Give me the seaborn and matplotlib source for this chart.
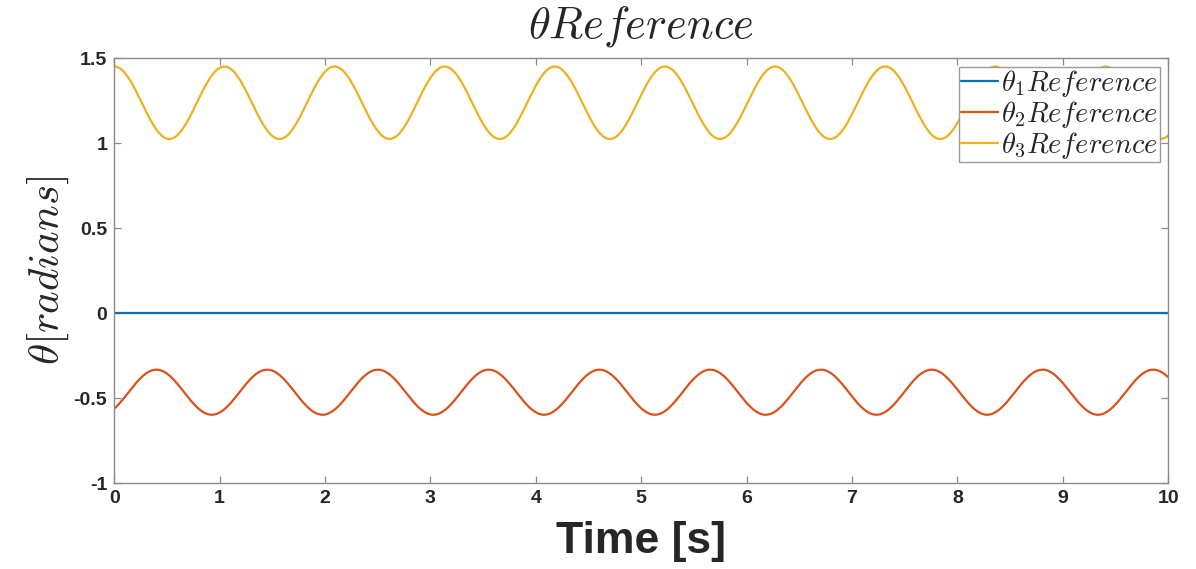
import numpy as np
import pandas as pd
import matplotlib
matplotlib.use("Agg")
import matplotlib.pyplot as plt
import seaborn as sns

# ---- data (extrema of each trace) ----
theta1_t = [0.0, 10.0]
theta1_v = [0.0, 0.0]

# theta2: alternating trough / peak times and values (first/last knots lie just outside the view)
theta2_t = [-0.126, 0.400, 0.926, 1.451, 1.977, 2.502, 3.028, 3.553, 4.079, 4.604,
            5.130, 5.655, 6.181, 6.706, 7.232, 7.757, 8.283, 8.808, 9.334, 9.859, 10.385]
theta2_v = [-0.598, -0.333, -0.598, -0.333, -0.598, -0.333, -0.598, -0.333, -0.598, -0.333,
            -0.598, -0.333, -0.598, -0.333, -0.598, -0.333, -0.598, -0.333, -0.598, -0.333, -0.598]

# theta3: alternating peak / trough times and values
theta3_t = [0.000, 0.523, 1.045, 1.568, 2.090, 2.613, 3.135, 3.658, 4.180, 4.703,
            5.225, 5.748, 6.270, 6.793, 7.315, 7.838, 8.360, 8.883, 9.405, 9.928, 10.450]
theta3_v = [1.450, 1.024, 1.450, 1.024, 1.450, 1.024, 1.450, 1.024, 1.450, 1.024,
            1.450, 1.024, 1.450, 1.024, 1.450, 1.024, 1.450, 1.024, 1.450, 1.024, 1.450]

labels = [r'$\theta_1 Reference$', r'$\theta_2 Reference$', r'$\theta_3 Reference$']
colors = ['#0072BD', '#D95319', '#EDB120']

x_ticks = list(range(0, 11))
y_ticks = [-1, -0.5, 0, 0.5, 1, 1.5]
y_ticklabels = ['-1', '-0.5', '0', '0.5', '1', '1.5']


def smooth_trace(ts, vs, n=40):
    """Join consecutive extrema with half-cosine segments (smooth turning points)."""
    out_t, out_v = [], []
    for i in range(len(ts) - 1):
        s = np.linspace(0, 1, n, endpoint=False)
        out_t.extend(ts[i] + (ts[i + 1] - ts[i]) * s)
        out_v.extend(vs[i] + (vs[i + 1] - vs[i]) * (1 - np.cos(np.pi * s)) / 2)
    out_t.append(ts[-1])
    out_v.append(vs[-1])
    return np.array(out_t), np.array(out_v)


frames = []
for lab, ts, vs in zip(labels, [theta1_t, theta2_t, theta3_t], [theta1_v, theta2_v, theta3_v]):
    if len(ts) > 2:
        t, v = smooth_trace(ts, vs)
    else:
        t, v = np.array(ts), np.array(vs)
    frames.append(pd.DataFrame({'t': t, 'v': v, 'series': lab}))
df = pd.concat(frames, ignore_index=True)

sns.set_theme(style='white')
plt.rcParams['font.family'] = ['Liberation Sans', 'DejaVu Sans']
plt.rcParams['mathtext.fontset'] = 'cm'

fig = plt.figure(figsize=(11.96, 5.69), dpi=100)
ax = fig.add_axes([0.0955, 0.151, 0.8812, 0.747])

sns.lineplot(data=df, x='t', y='v', hue='series', palette=dict(zip(labels, colors)),
             hue_order=labels, estimator=None, sort=False, linewidth=1.6, ax=ax)

ax.set_xlim(0, 10)
ax.set_ylim(-1, 1.5)
ax.set_xticks(x_ticks)
ax.set_xticklabels([str(x) for x in x_ticks], fontweight='bold', fontsize=14, color='#262626')
ax.set_yticks(y_ticks)
ax.set_yticklabels(y_ticklabels, fontweight='bold', fontsize=14, color='#262626')

spine_col = '#8a8a8a'
for sp in ax.spines.values():
    sp.set_visible(True)
    sp.set_color(spine_col)
    sp.set_linewidth(1.0)
ax.tick_params(axis='both', which='major', direction='in', length=5, width=0.9,
               color=spine_col, top=True, right=True, bottom=True, left=True, pad=5)

ax.set_title(r'$\theta Reference$', fontsize=32, pad=15)
ax.set_xlabel('Time [s]', fontsize=32, fontweight='bold', color='#262626', labelpad=10)
ax.set_ylabel(r'$\theta[radians]$', fontsize=31, labelpad=2)

leg = ax.legend(loc='upper right', fontsize=20.5, frameon=True, fancybox=False,
                borderpad=0.05, labelspacing=0.0, handlelength=1.3, handletextpad=0.12,
                borderaxespad=0.3)
leg.get_frame().set_edgecolor('#9a9a9a')
leg.get_frame().set_linewidth(1.0)
leg.get_frame().set_alpha(1.0)

fig.savefig('out.png', dpi=100, facecolor='white')
